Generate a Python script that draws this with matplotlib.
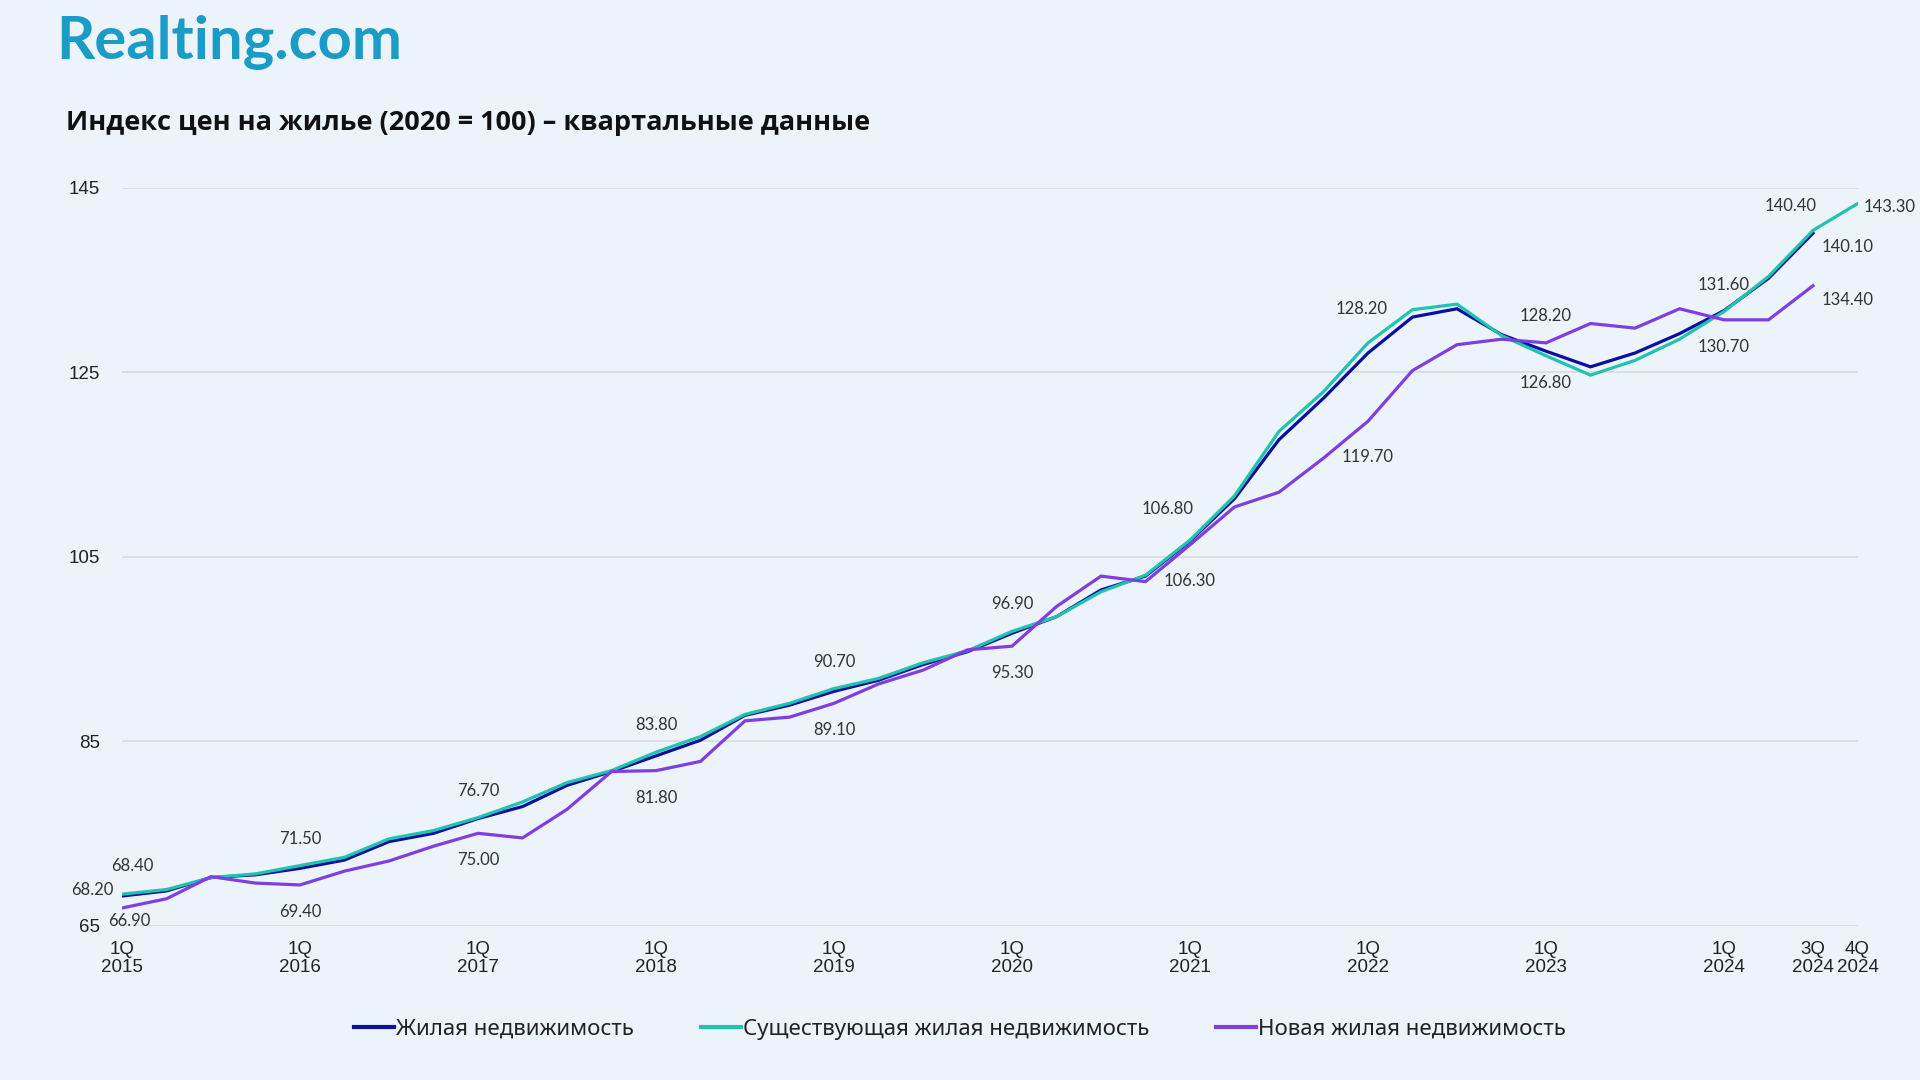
import matplotlib
matplotlib.use("Agg")
import matplotlib.pyplot as plt
import numpy as np

# ---------------- data ----------------
quarters = [f"{q}Q {y}" for y in range(2015, 2025) for q in range(1, 5)]
tick_labels = {0: "1Q\n2015", 4: "1Q\n2016", 8: "1Q\n2017", 12: "1Q\n2018", 16: "1Q\n2019",
               20: "1Q\n2020", 24: "1Q\n2021", 28: "1Q\n2022", 32: "1Q\n2023", 36: "1Q\n2024",
               38: "3Q\n2024", 39: "4Q\n2024"}

total = [68.2, 68.75, 70.2, 70.5, 71.2, 72.1, 74.1, 75.0, 76.6, 77.9,
         80.2, 81.7, 83.4, 85.1, 87.8, 88.9, 90.4, 91.6, 93.3, 94.7,
         96.7, 98.5, 101.4, 102.9, 106.7, 111.3, 117.7, 122.2, 127.1, 131.0,
         131.9, 129.1, 127.3, 125.6, 127.1, 129.2, 131.7, 135.2, 140.1, np.nan]
existing = [68.4, 68.9, 70.2, 70.6, 71.5, 72.4, 74.4, 75.3, 76.7, 78.4,
            80.5, 81.8, 83.8, 85.5, 87.9, 89.1, 90.7, 91.8, 93.5, 94.8,
            96.9, 98.5, 101.2, 103.0, 106.8, 111.6, 118.6, 122.9, 128.2, 131.8,
            132.4, 129.0, 126.8, 124.7, 126.3, 128.6, 131.6, 135.4, 140.4, 143.3]
new = [66.9, 67.9, 70.3, 69.6, 69.4, 70.9, 72.0, 73.6, 75.0, 74.5,
       77.6, 81.7, 81.8, 82.8, 87.2, 87.6, 89.1, 91.2, 92.7, 94.9,
       95.3, 99.6, 102.9, 102.3, 106.3, 110.4, 112.0, 115.7, 119.7, 125.2,
       128.0, 128.6, 128.2, 130.3, 129.8, 131.9, 130.7, 130.7, 134.4, np.nan]

series_names = ["Жилая недвижимость", "Существующая жилая недвижимость", "Новая жилая недвижимость"]
y_ticks = [65, 85, 105, 125, 145]

# labelled points: (series index, quarter index, placement)
labels = [
    (0, 0, "left"), (1, 0, "above_r"), (2, 0, "below_first"),
    (1, 4, "above"), (2, 4, "below"),
    (1, 8, "above"), (2, 8, "below"),
    (1, 12, "above"), (2, 12, "below"),
    (1, 16, "above"), (2, 16, "below"),
    (1, 20, "above"), (2, 20, "below"),
    (1, 24, "above_l"), (2, 24, "below_far"),
    (1, 28, "above_far"), (2, 28, "below_far"),
    (2, 32, "above"), (1, 32, "below"),
    (1, 36, "above"), (2, 36, "below"),
    (1, 38, "above_l2"), (0, 38, "right_b"), (2, 38, "right_b"),
    (1, 39, "right"),
]

# ---------------- style ----------------
BG = "#EDF3FB"
colors = ["#0B0FA0", "#1FC3AE", "#7F3FE0"]

fig = plt.figure(figsize=(19.2, 10.8), dpi=100, facecolor=BG)
ax = fig.add_axes([122 / 1920, (1080 - 925.5) / 1080, (1857.5 - 122) / 1920, (925.5 - 188) / 1080])
ax.set_facecolor(BG)

x = np.arange(len(quarters))
series = [total, existing, new]
for s, c, name in zip(series, colors, series_names):
    ax.plot(x, s, color=c, lw=2.3, label=name, solid_joinstyle="miter")

ax.set_xlim(0, len(quarters) - 1)
ax.set_ylim(65, 145)
ax.set_yticks(y_ticks)
ax.set_yticklabels([str(t) for t in y_ticks])
ax.set_xticks(list(tick_labels.keys()))
ax.set_xticklabels(list(tick_labels.values()), linespacing=1.1)
ax.tick_params(axis="both", length=0, labelsize=13.5, colors="#222222")
ax.tick_params(axis="y", pad=16)
ax.tick_params(axis="x", pad=11)
for lab in ax.get_xticklabels() + ax.get_yticklabels():
    lab.set_fontfamily("Liberation Sans")
for sp in ax.spines.values():
    sp.set_visible(False)
ax.grid(axis="y", color="#D6D9DE", lw=1.1)
ax.set_axisbelow(True)

offsets = {
    "above": (0, 27, "center", "center"),
    "below": (0, -27, "center", "center"),
    "above_far": (-6, 34, "center", "center"),
    "below_far": (0, -36, "center", "center"),
    "above_l": (-22, 31, "center", "center"),
    "above_l2": (-22, 24, "center", "center"),
    "above_r": (10, 28, "center", "center"),
    "below_first": (-14, -13, "left", "center"),
    "left": (-8, 6, "right", "center"),
    "right": (6, -3, "left", "center"),
    "right_b": (9, -14, "left", "center"),
}
for si, qi, place in labels:
    v = series[si][qi]
    dx, dy, ha, va = offsets[place]
    ax.annotate(f"{v:.2f}", (x[qi], v), xytext=(dx, dy), textcoords="offset pixels",
                ha=ha, va=va, fontsize=12, color="#333333", family="Lato",
                annotation_clip=False)

# logo and title
fig.text(56 / 1920, 1 - 43 / 1080, "Realting.com", fontsize=43, fontweight="bold",
         family="Lato", color="#1A9CC6", ha="left", va="center")
fig.text(66 / 1920, 1 - 123 / 1080, "Индекс цен на жилье (2020 = 100) – квартальные данные",
         fontsize=19.5, fontweight="bold", family="Open Sans", color="#111111",
         ha="left", va="center")

leg = fig.legend(loc="center", bbox_to_anchor=(0.5, 1 - 1029 / 1080), ncol=3, frameon=False,
                 handlelength=1.8, handletextpad=0.1, columnspacing=3.0,
                 prop={"family": "Noto Sans", "size": 16})
for t in leg.get_texts():
    t.set_color("#222222")
for h in leg.get_lines():
    h.set_linewidth(3)

fig.savefig("out.png", dpi=100, facecolor=BG)
